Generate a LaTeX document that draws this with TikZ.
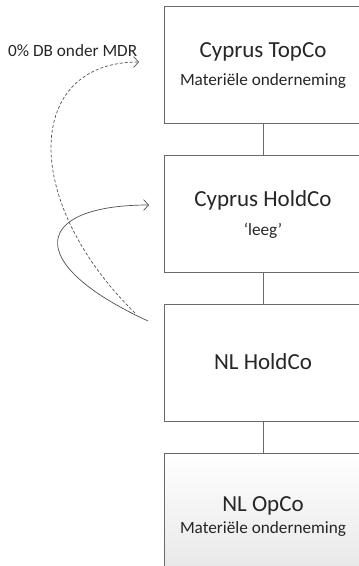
\documentclass[tikz,border=0pt]{standalone}
\usepackage{fontspec}
\setmainfont{Carlito}
\usetikzlibrary{arrows.meta}
\definecolor{edge}{HTML}{6A6A6A}
\definecolor{ink}{HTML}{262626}
\tikzset{
  entity/.style={draw=edge, line width=0.9pt, minimum width=198pt, minimum height=117pt, inner sep=0pt},
  title/.style={anchor=base, text=ink, font=\fontsize{23}{27}\selectfont, inner sep=0pt},
  subtitle/.style={anchor=base, text=ink, font=\fontsize{17.2}{20}\selectfont, inner sep=0pt},
  link/.style={draw=edge, line width=0.9pt},
  flow/.style={draw=ink!80, line width=0.7pt, -{Straight Barb[length=5pt, width=11pt, line width=0.7pt]}},
}
\begin{document}
\begin{tikzpicture}[x=1pt, y=-1pt]
\useasboundingbox (0,0) rectangle (359,566);
\clip (0,0) rectangle (359,566);

% ownership chain
\node[entity] (topco)  at (263,64.5) {};
\node[entity] (cyhold) at (263,213.5) {};
\node[entity] (nlhold) at (263,362.5) {};
\node[entity, top color=white, bottom color=black!9] (opco) at (263,511.5) {};

\draw[link] (topco.south) -- (cyhold.north);
\draw[link] (cyhold.south) -- (nlhold.north);
\draw[link] (nlhold.south) -- (opco.north);

% labels inside the boxes
\node[title]    (t1) at (263,57.3)  {Cyprus TopCo};
\node[subtitle] (s1) at (263,85)    {Materiële onderneming};
\node[title]    (t2) at (263,206.7) {Cyprus HoldCo};
\node[subtitle] (s2) at (263,235)   {‘leeg’};
\node[title]    (t3) at (263,369)   {NL HoldCo};
\node[title]    (t4) at (263,511.7) {NL OpCo};
\node[subtitle] (s4) at (263,533.3) {Materiële onderneming};

% dividend flows
\node[anchor=base west, text=ink, font=\fontsize{17.2}{20}\selectfont, inner sep=0pt] (mdr) at (8,56) {0\% DB onder MDR};
\coordinate (dashStart) at (135,313);
\coordinate (dashEnd)   at (139,62);
\coordinate (solidStart) at (148,321);
\coordinate (solidEnd)   at (149,205);

\draw[flow, dashed, dash pattern=on 3pt off 2pt] (dashStart) .. controls (20,200) and (25,62) .. (dashEnd);
\draw[flow] (solidStart) .. controls (20,262) and (35,205) .. (solidEnd);
\end{tikzpicture}
\end{document}
